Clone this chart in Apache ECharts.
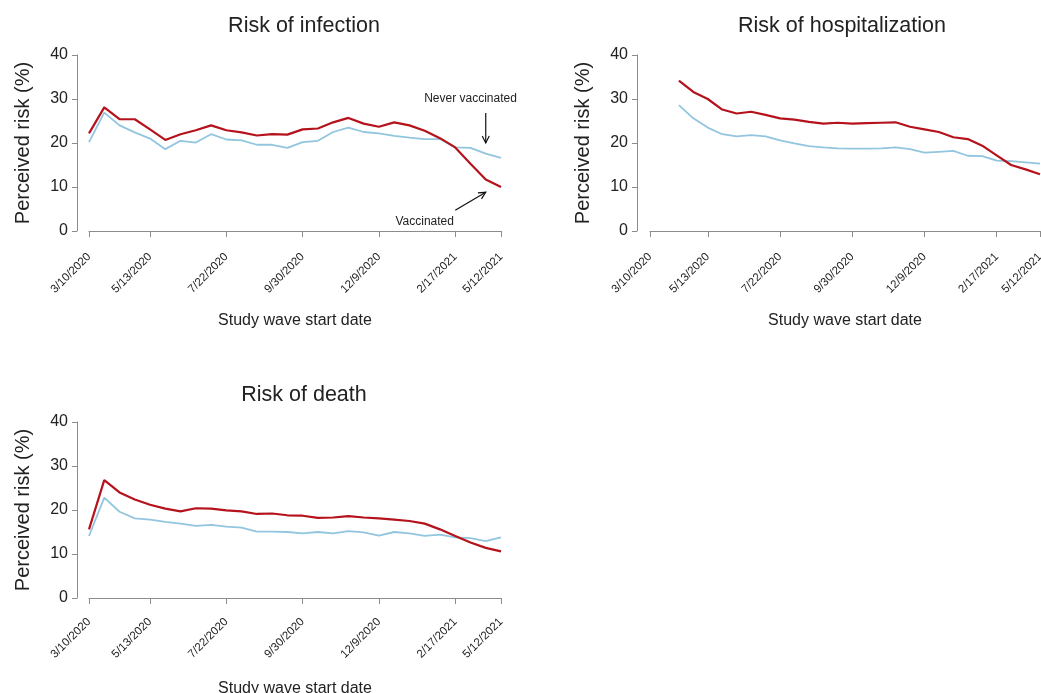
<!DOCTYPE html>
<html>
<head>
<meta charset="utf-8">
<script src="https://cdn.jsdelivr.net/npm/echarts@6/dist/echarts.min.js"></script>
<style>
html,body{margin:0;padding:0;background:#fff;}
#chart{width:1041px;height:693px;}
</style>
</head>
<body>
<div id="chart"></div>
<script>
// ---- data ----
const waveIds = Array.from({length: 28}, (_, i) => 'Wave ' + (i + 1));
const tickIdx = [0, 4, 9, 14, 19, 24, 27];
const tickLabels = ['3/10/2020', '5/13/2020', '7/22/2020', '9/30/2020', '12/9/2020', '2/17/2021', '5/12/2021'];
const yTicks = [0, 10, 20, 30, 40];
const panelTitles = ['Risk of infection', 'Risk of hospitalization', 'Risk of death'];
const seriesNames = ['Vaccinated', 'Never vaccinated'];

const infectionVacc  = [22.2, 28.1, 25.4, 25.4, 23.1, 20.7, 22.0, 22.9, 24.0, 22.9, 22.4, 21.7, 22.0, 21.9, 23.1, 23.3, 24.7, 25.7, 24.4, 23.7, 24.7, 24.0, 22.8, 21.1, 19.0, 15.3, 11.7, 10.0];
const infectionNever = [20.2, 26.9, 24.0, 22.4, 21.0, 18.6, 20.5, 20.1, 22.0, 20.8, 20.6, 19.6, 19.6, 18.9, 20.2, 20.5, 22.5, 23.5, 22.5, 22.2, 21.6, 21.2, 20.9, 20.9, 19.0, 18.9, 17.6, 16.6];
const hospVacc  = [null, null, 34.2, 31.6, 30.0, 27.6, 26.7, 27.1, 26.4, 25.6, 25.3, 24.8, 24.4, 24.6, 24.4, 24.5, 24.6, 24.7, 23.7, 23.1, 22.5, 21.3, 20.9, 19.4, 17.2, 15.0, 14.0, 12.9];
const hospNever = [null, null, 28.6, 25.6, 23.5, 22.0, 21.5, 21.8, 21.5, 20.6, 19.9, 19.3, 19.0, 18.8, 18.7, 18.7, 18.8, 19.0, 18.6, 17.8, 18.0, 18.2, 17.1, 17.0, 16.0, 15.9, 15.6, 15.3];
const deathVacc  = [15.6, 26.8, 24.0, 22.4, 21.2, 20.3, 19.7, 20.4, 20.3, 19.9, 19.7, 19.1, 19.2, 18.8, 18.7, 18.2, 18.3, 18.6, 18.3, 18.1, 17.8, 17.5, 16.9, 15.6, 14.1, 12.6, 11.4, 10.6];
const deathNever = [14.1, 22.8, 19.6, 18.1, 17.8, 17.3, 16.9, 16.4, 16.6, 16.2, 16.0, 15.1, 15.1, 15.0, 14.7, 15.0, 14.7, 15.2, 14.9, 14.2, 15.0, 14.7, 14.1, 14.4, 13.8, 13.6, 12.9, 13.8];

// annotation anchors in data space [wave index, value] (panel 1)
const annNeverText = [25.2, 30.0];
const annNeverArrow = [[26.08, 26.8], [26.08, 20.0]];
const annVaccText = [21.76, 2.2];
const annVaccArrow = [[23.53, 4.7], [25.75, 8.8]];

// ---- styling ----
const RED = '#b5121b';
const BLUE = '#92c5de';
const AXIS = '#8c8c8c';
const TXT = '#222';
const FONT = '"Liberation Sans", Arial, sans-serif';

const grids = [
  {left: 89, top: 55, width: 412, height: 176, outerBoundsMode: 'none', containLabel: false},
  {left: 650, top: 55, width: 390, height: 176, outerBoundsMode: 'none', containLabel: false},
  {left: 89, top: 422, width: 412, height: 176, outerBoundsMode: 'none', containLabel: false}
];
const xOffsets = [16, 16, 14];
const yOffsets = [12, 13, 12];
const xNameGaps = [66, 66, 69];

function xAxis(g) {
  return {
    type: 'category', gridIndex: g, data: waveIds, boundaryGap: false, offset: xOffsets[g],
    axisLine: {show: true, lineStyle: {color: AXIS, width: 1}},
    axisTick: {show: true, length: 6, interval: (i) => tickIdx.includes(i), lineStyle: {color: AXIS}},
    axisLabel: {
      interval: (i) => tickIdx.includes(i), rotate: 45, fontSize: 11.5, color: TXT, fontFamily: FONT, margin: 8,
      formatter: (v, i) => tickLabels[tickIdx.indexOf(i)]
    },
    splitLine: {show: false},
    name: 'Study wave start date', nameLocation: 'middle', nameGap: xNameGaps[g],
    nameTextStyle: {fontSize: 16, color: TXT, fontFamily: FONT}
  };
}
function yAxis(g) {
  return {
    type: 'value', gridIndex: g, min: yTicks[0], max: yTicks[yTicks.length - 1], interval: 10, offset: yOffsets[g],
    axisLine: {show: true, lineStyle: {color: AXIS, width: 1}},
    axisTick: {show: true, length: 5, lineStyle: {color: AXIS}},
    axisLabel: {fontSize: 16, color: TXT, fontFamily: FONT, margin: 9},
    splitLine: {show: false},
    name: 'Perceived risk (%)', nameLocation: 'middle', nameGap: 44,
    nameTextStyle: {fontSize: 20, color: TXT, fontFamily: FONT}
  };
}
function line(g, name, data, color, width, z) {
  return {
    type: 'line', name: name, xAxisIndex: g, yAxisIndex: g, data: data,
    showSymbol: false, symbol: 'none', connectNulls: false, z: z,
    lineStyle: {color: color, width: width}, itemStyle: {color: color}, animation: false
  };
}

const titleCenters = [[299, 10], [837, 10], [299, 379]];

const chart = echarts.init(document.getElementById('chart'), null, {renderer: 'canvas'});
chart.setOption({
  backgroundColor: '#fff',
  animation: false,
  title: panelTitles.map((t, i) => ({
    text: t, left: titleCenters[i][0], top: titleCenters[i][1], textAlign: 'center',
    textStyle: {fontSize: 21.5, fontWeight: 'normal', color: TXT, fontFamily: FONT}
  })),
  grid: grids,
  xAxis: [xAxis(0), xAxis(1), xAxis(2)],
  yAxis: [yAxis(0), yAxis(1), yAxis(2)],
  series: [
    line(0, seriesNames[1], infectionNever, BLUE, 1.8, 2),
    line(0, seriesNames[0], infectionVacc, RED, 2.2, 3),
    line(1, seriesNames[1], hospNever, BLUE, 1.8, 2),
    line(1, seriesNames[0], hospVacc, RED, 2.2, 3),
    line(2, seriesNames[1], deathNever, BLUE, 1.8, 2),
    line(2, seriesNames[0], deathVacc, RED, 2.2, 3)
  ]
});

// annotations placed through the axes' own conversion
function px(p) { return chart.convertToPixel({gridIndex: 0}, p); }
function arrow(a, b) {
  const p0 = px(a), p1 = px(b);
  const dx = p1[0] - p0[0], dy = p1[1] - p0[1];
  const len = Math.sqrt(dx * dx + dy * dy);
  const ux = dx / len, uy = dy / len;
  const hl = 7, hw = 3.5;
  const bx = p1[0] - ux * hl, by = p1[1] - uy * hl;
  return [
    {type: 'line', shape: {x1: p0[0], y1: p0[1], x2: p1[0], y2: p1[1]}, style: {stroke: '#111', lineWidth: 1.2}},
    {type: 'polyline', shape: {points: [[bx - uy * hw, by + ux * hw], [p1[0], p1[1]], [bx + uy * hw, by - ux * hw]]},
     style: {stroke: '#111', lineWidth: 1.2, fill: null}}
  ];
}
const tN = px(annNeverText), tV = px(annVaccText);
chart.setOption({
  graphic: [
    {type: 'text', x: tN[0], y: tN[1], style: {text: seriesNames[1], font: '12px ' + FONT, fill: TXT, align: 'center', verticalAlign: 'middle'}},
    {type: 'text', x: tV[0], y: tV[1], style: {text: seriesNames[0], font: '12px ' + FONT, fill: TXT, align: 'center', verticalAlign: 'middle'}}
  ].concat(arrow(annNeverArrow[0], annNeverArrow[1])).concat(arrow(annVaccArrow[0], annVaccArrow[1]))
});
</script>
</body>
</html>
